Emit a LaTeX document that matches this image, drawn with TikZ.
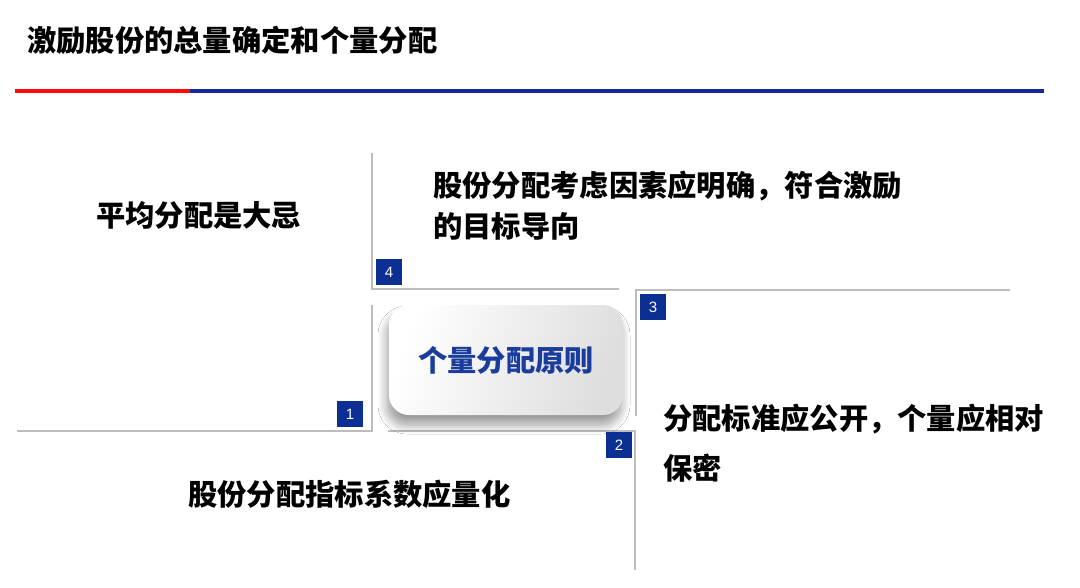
\documentclass[tikz,border=0pt]{standalone}
\usepackage{fontspec}
\setmainfont{Noto Sans CJK SC}
\newfontfamily\numfont{Liberation Sans}
\usetikzlibrary{shadows.blur}
\definecolor{navy}{HTML}{0B2F93}
\definecolor{topblue}{HTML}{1428A0}
\definecolor{topred}{HTML}{FF0A0A}
\definecolor{rule}{HTML}{BDBDBD}
\definecolor{ctext}{HTML}{1A3C9C}
\tikzset{
  quad/.style={draw=rule, line width=2pt},
  numbox/.style={fill=navy, text=white, minimum width=26pt, minimum height=26pt, inner sep=0pt, font=\numfont\fontsize{15}{15}\selectfont},
  body/.style={text=black, font=\bfseries\fontsize{29.3}{41}\selectfont, align=left, inner sep=0pt},
}
\begin{document}
\begin{tikzpicture}[x=1pt,y=-1pt]
\useasboundingbox (0,0) rectangle (1080,587);
\fill[white] (0,0) rectangle (1080,587);
% title
\node[anchor=west, inner sep=0pt, font=\bfseries\fontsize{29.3}{30}\selectfont] (title) at (27,40) {激励股份的总量确定和个量分配};
\coordinate (r1) at (15,91); \coordinate (r2) at (190,91); \coordinate (r3) at (1044,91);
\draw[topred, line width=4pt] (r1) -- (r2);
\draw[topblue, line width=4pt] (r2) -- (r3);
% quadrant 4
\coordinate (q4a) at (372,153); \coordinate (q4b) at (372,289); \coordinate (q4c) at (619,289);
\draw[quad] (q4a) -- (q4b) -- (q4c);
% quadrant 3
\coordinate (q3a) at (1010,290); \coordinate (q3b) at (636,290); \coordinate (q3c) at (636,416);
\draw[quad] (q3a) -- (q3b) -- (q3c);
% quadrant 1
\coordinate (q1a) at (372,305); \coordinate (q1b) at (372,431); \coordinate (q1c) at (17,431);
\draw[quad] (q1a) -- (q1b) -- (q1c);
% quadrant 2
\coordinate (q2a) at (388,431); \coordinate (q2b) at (635,431); \coordinate (q2c) at (635,570);
\draw[quad] (q2a) -- (q2b) -- (q2c);
% center box
\node[rounded corners=20pt, minimum width=234pt, minimum height=110pt, left color=white, right color=black!13, shading angle=70,
  blur shadow={shadow xshift=-2pt, shadow yshift=-10pt, shadow blur steps=12, shadow opacity=40, shadow blur radius=9pt},
  text=ctext, font=\bfseries\fontsize{29.3}{30}\selectfont] (center) at (506,360) {个量分配原则};
% number boxes
\node[numbox] (n4) at (389,272) {4};
\node[numbox] (n3) at (653,307) {3};
\node[numbox] (n2) at (619,445) {2};
\node[numbox] (n1) at (350,414) {1};
% texts
\node[body, anchor=west] (t1) at (96,215) {平均分配是大忌};
\node[body, anchor=north west] (t4) at (433,171) {股份分配考虑因素应明确，符合激励\\的目标导向};
\node[body, anchor=north west, font=\bfseries\fontsize{29.3}{50}\selectfont] (t3) at (663,404) {分配标准应公开，个量应相对\\保密};
\node[body, anchor=west] (t2) at (188,494) {股份分配指标系数应量化};
\end{tikzpicture}
\end{document}
